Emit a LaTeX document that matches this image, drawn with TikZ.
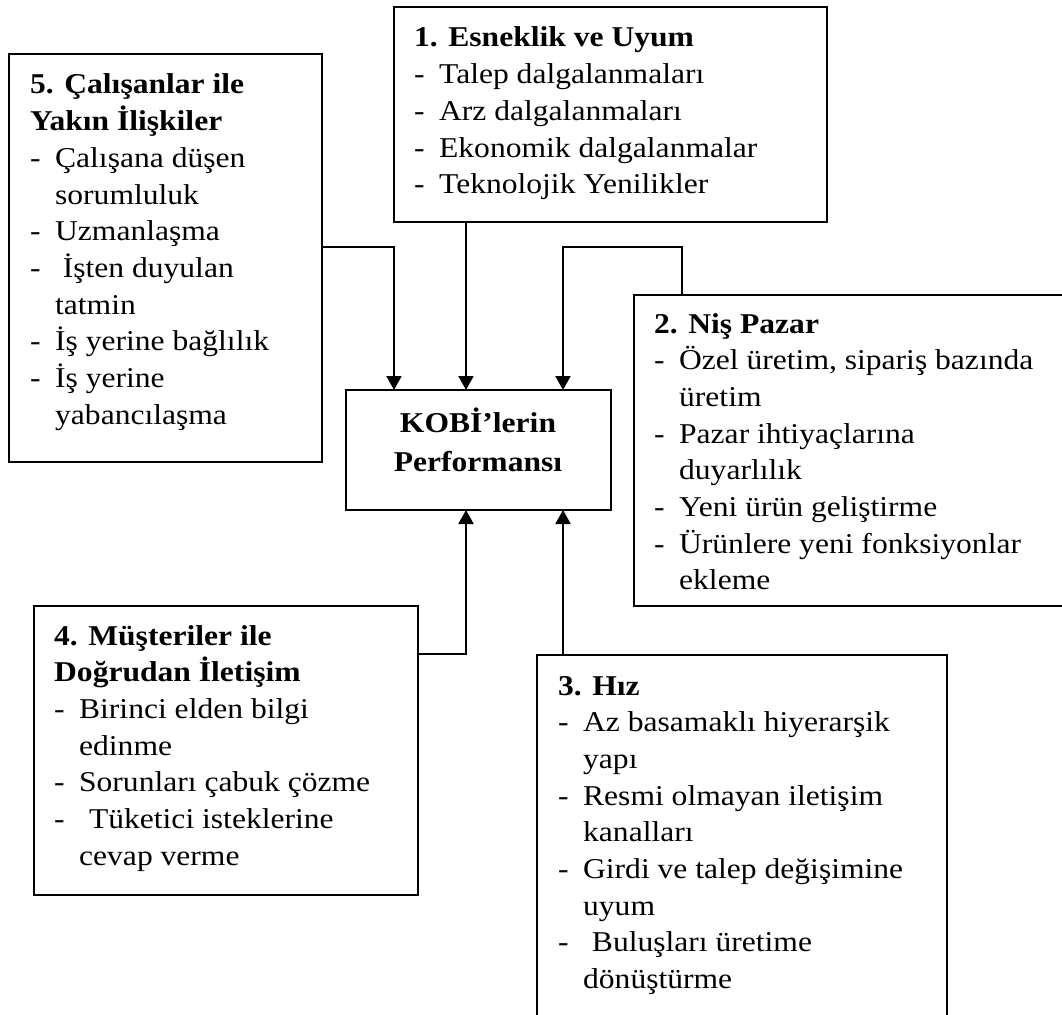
\documentclass[tikz,border=0pt]{standalone}
\usepackage{fontspec}
\setmainfont{Liberation Serif}
\usetikzlibrary{arrows.meta}
\newcommand\dsh{\makebox[22.7pt][l]{-}}
\newcommand\ind{\hspace*{22.7pt}}
\newcommand\wtxt[1]{\scalebox{1.1}[1]{\begin{tabular}[t]{@{}l@{}}#1\end{tabular}}}
\begin{document}
\begin{tikzpicture}[x=1pt,y=-1pt,
  box/.style={draw, line width=2pt, rectangle, inner sep=0pt, outer sep=0pt, anchor=north west},
  txt/.style={anchor=base west, inner sep=0pt,
    font=\fontsize{28.7pt}{36.7pt}\selectfont},
  arr/.style={line width=2pt, -{Triangle[width=15pt,length=14pt]}}]
\useasboundingbox[fill=white] (0,0) rectangle (1062,1014);

% boxes
\node[box, minimum width=433pt, minimum height=215pt] (b1) at (394,7) {};
\node[box, minimum width=313pt, minimum height=408pt] (b5) at (9,54) {};
\node[box, minimum width=440pt, minimum height=311pt] (b2) at (634,295) {};
\node[box, minimum width=384pt, minimum height=289pt] (b4) at (34,606) {};
\node[box, minimum width=410pt, minimum height=380pt] (b3) at (537,655) {};
\node[box, minimum width=265pt, minimum height=120pt] (kobi) at (346,390) {};

% texts
\node[txt] (t1) at (414,47) {\wtxt{{\bfseries 1. Esneklik ve Uyum}\\
\dsh Talep dalgalanmaları\\
\dsh Arz dalgalanmaları\\
\dsh Ekonomik dalgalanmalar\\
\dsh Teknolojik Yenilikler}};

\node[txt] (t5) at (30,94) {\wtxt{{\bfseries 5. Çalışanlar ile}\\
{\bfseries Yakın İlişkiler}\\
\dsh Çalışana düşen\\
\ind sorumluluk\\
\dsh Uzmanlaşma\\
\dsh\hspace*{7pt}İşten duyulan\\
\ind tatmin\\
\dsh İş yerine bağlılık\\
\dsh İş yerine\\
\ind yabancılaşma}};

\node[txt] (t2) at (654,333) {\wtxt{{\bfseries 2. Niş Pazar}\\
\dsh Özel üretim, sipariş bazında\\
\ind üretim\\
\dsh Pazar ihtiyaçlarına\\
\ind duyarlılık\\
\dsh Yeni ürün geliştirme\\
\dsh Ürünlere yeni fonksiyonlar\\
\ind ekleme}};

\node[txt] (t4) at (54,645) {\wtxt{{\bfseries 4. Müşteriler ile}\\
{\bfseries Doğrudan İletişim}\\
\dsh Birinci elden bilgi\\
\ind edinme\\
\dsh Sorunları çabuk çözme\\
\dsh\hspace*{9pt}Tüketici isteklerine\\
\ind cevap verme}};

\node[txt] (t3) at (558,695) {\wtxt{{\bfseries 3. Hız}\\
\dsh Az basamaklı hiyerarşik\\
\ind yapı\\
\dsh Resmi olmayan iletişim\\
\ind kanalları\\
\dsh Girdi ve talep değişimine\\
\ind uyum\\
\dsh\hspace*{8pt}Buluşları üretime\\
\ind dönüştürme}};

\node[anchor=base, inner sep=0pt,
  font=\fontsize{28.7pt}{39pt}\selectfont\bfseries] (tk) at (478,432)
  {\scalebox{1.1}[1]{\begin{tabular}[t]{@{}c@{}}KOBİ’lerin\\Performansı\end{tabular}}};

% connectors
\coordinate (j5) at (394,247);
\coordinate (a1) at (466,0);
\coordinate (j2) at (563,247);
\coordinate (j2b) at (682,247);
\coordinate (j4) at (466,654);
\coordinate (a3) at (563,0);

\draw[arr] (j5 -| b5.east) -- (j5) -- (j5 |- kobi.north);
\draw[arr] (a1 |- b1.south) -- (a1 |- kobi.north);
\draw[arr] (j2b |- b2.north) -- (j2b) -- (j2) -- (j2 |- kobi.north);
\draw[arr] (j4 -| b4.east) -- (j4) -- (j4 |- kobi.south);
\draw[arr] (a3 |- b3.north) -- (a3 |- kobi.south);
\end{tikzpicture}
\end{document}
